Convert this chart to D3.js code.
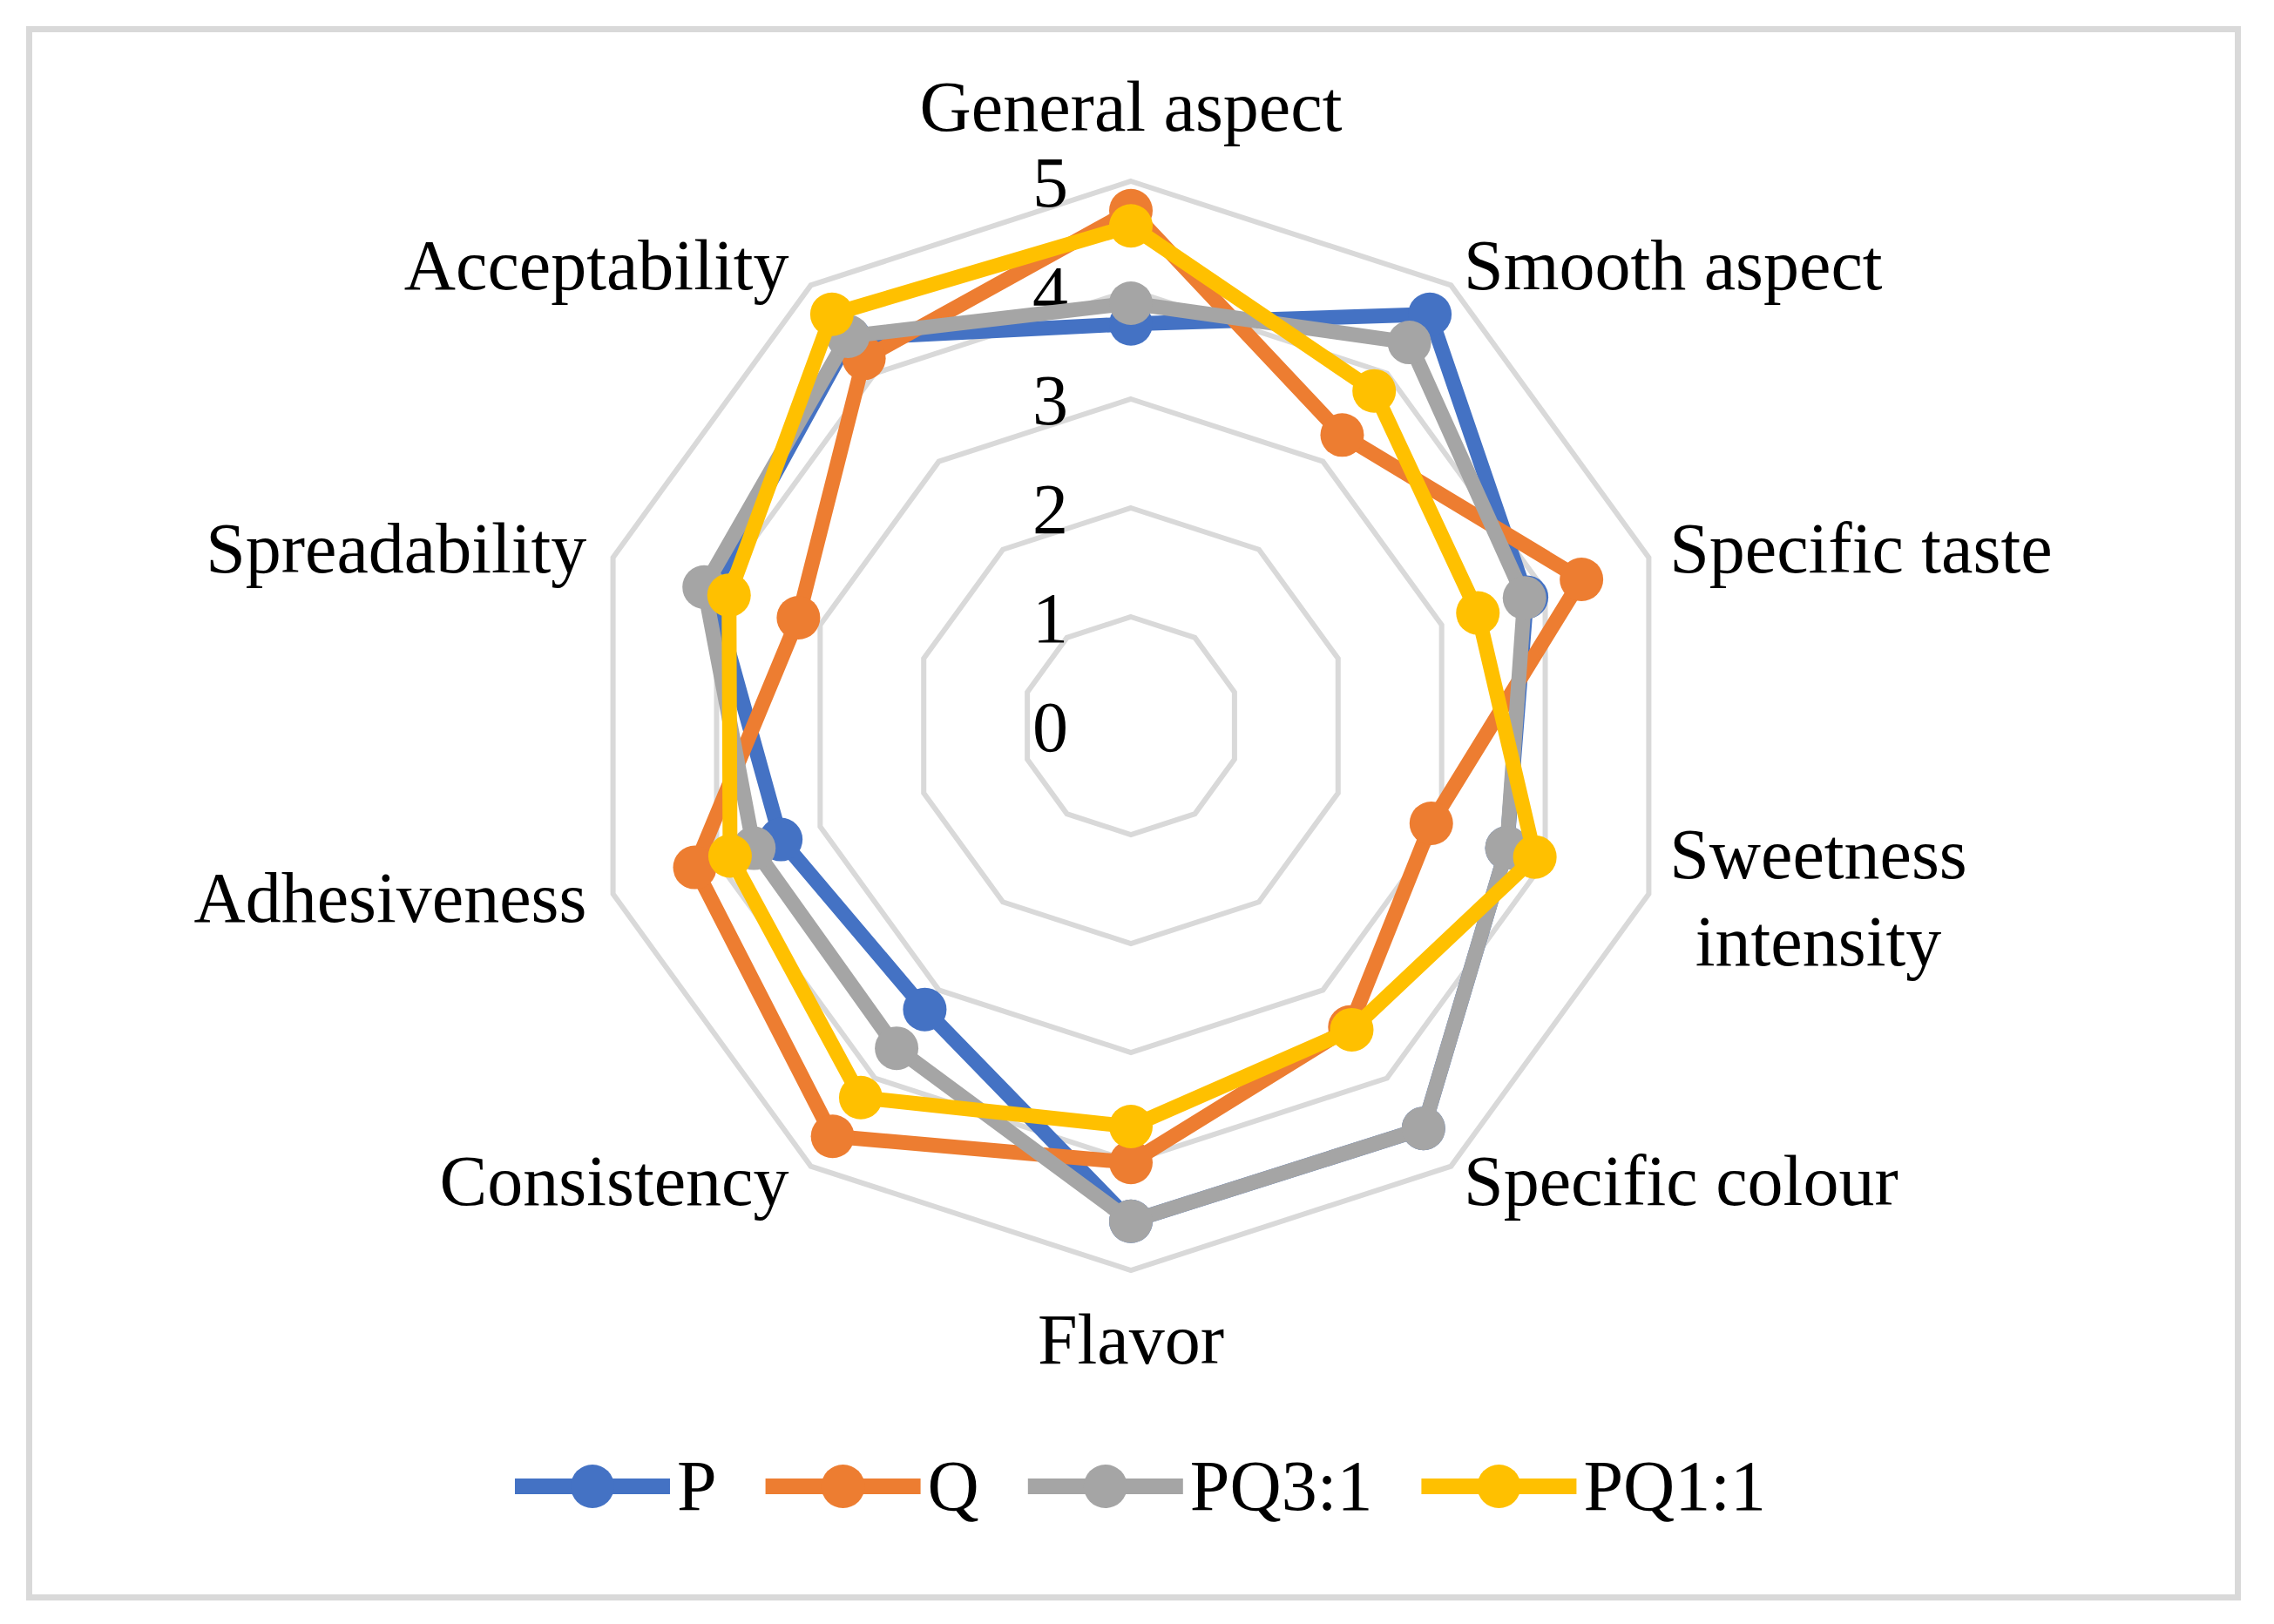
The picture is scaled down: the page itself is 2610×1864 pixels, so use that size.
<!DOCTYPE html>
<html>
<head>
<meta charset="utf-8">
<script src="https://cdn.jsdelivr.net/npm/d3@7"></script>
<style>
  html, body { margin: 0; padding: 0; background: #ffffff; }
  svg { display: block; }
  text { font-family: "Liberation Serif", "Times New Roman", serif; fill: #000; }
</style>
</head>
<body>
<svg id="chart" width="2610" height="1864"></svg>
<script>
// ---------- data ----------
const categories = ["General aspect", "Smooth aspect", "Specific taste", "Sweetness intensity",
  "Specific colour", "Flavor", "Consistency", "Adhesiveness", "Spreadability", "Acceptability"];
const seriesNames = ["P", "Q", "PQ3:1", "PQ1:1"];
const valuesP    = [3.69, 4.67, 3.82, 3.63, 4.57, 4.55, 3.22, 3.38, 4.05, 4.40];
const valuesQ    = [4.73, 3.30, 4.35, 2.90, 3.42, 4.01, 4.66, 4.21, 3.21, 4.17];
const valuesPQ31 = [3.88, 4.35, 3.80, 3.63, 4.57, 4.55, 3.66, 3.64, 4.12, 4.42];
const valuesPQ11 = [4.59, 3.80, 3.35, 3.90, 3.45, 3.68, 4.22, 3.87, 3.88, 4.67];
const tickValues = [0, 1, 2, 3, 4, 5];
const tickLabels = ["0", "1", "2", "3", "4", "5"];
const seriesColors = ["#4472C4", "#ED7D31", "#A5A5A5", "#FFC000"];

// ---------- layout ----------
const W = 2610, H = 1864;
const cx = 1298, cy = 833, R = 625;
const fontSize = 82;
const lineW = 17, markerR = 25;
const gridColor = "#D9D9D9";
const maxLabelW = 520;

const svg = d3.select("#chart");
svg.append("rect").attr("x", 0).attr("y", 0).attr("width", W).attr("height", H).attr("fill", "#fff");
svg.append("rect").attr("x", 33.5).attr("y", 33.5).attr("width", 2535).attr("height", 1800)
  .attr("fill", "none").attr("stroke", gridColor).attr("stroke-width", 7);

const n = categories.length;
const rScale = d3.scaleLinear().domain([0, 5]).range([0, R]);
const aScale = d3.scaleLinear().domain([0, n]).range([0, 2 * Math.PI]);

const g = svg.append("g").attr("transform", `translate(${cx},${cy})`);

// rings
const ringLine = d3.lineRadial()
  .angle((d, i) => aScale(i))
  .radius(d => rScale(d))
  .curve(d3.curveLinearClosed);
tickValues.filter(v => v > 0).forEach(v => {
  g.append("path")
    .attr("d", ringLine(d3.range(n).map(() => v)))
    .attr("fill", "none").attr("stroke", gridColor).attr("stroke-width", 6)
    .attr("stroke-linejoin", "miter");
});

// tick labels
g.selectAll("text.tick").data(tickValues).join("text")
  .attr("class", "tick")
  .attr("x", -72)
  .attr("y", d => -rScale(d))
  .attr("dy", "0.35em")
  .attr("text-anchor", "end")
  .attr("font-size", fontSize)
  .text((d, i) => tickLabels[i]);

// series
const allValues = [valuesP, valuesQ, valuesPQ31, valuesPQ11];
const seriesLine = d3.lineRadial()
  .angle((d, i) => aScale(i))
  .radius(d => rScale(d))
  .curve(d3.curveLinearClosed);
allValues.forEach((vals, s) => {
  const sg = g.append("g");
  sg.append("path")
    .attr("d", seriesLine(vals))
    .attr("fill", "none")
    .attr("stroke", seriesColors[s])
    .attr("stroke-width", lineW)
    .attr("stroke-linejoin", "round");
  sg.selectAll("circle").data(vals).join("circle")
    .attr("cx", (d, i) => rScale(d) * Math.sin(aScale(i)))
    .attr("cy", (d, i) => -rScale(d) * Math.cos(aScale(i)))
    .attr("r", markerR)
    .attr("fill", seriesColors[s]);
});

// category labels
const measure = svg.append("text").attr("font-size", fontSize).attr("visibility", "hidden");
function textW(s) { measure.text(s); return measure.node().getComputedTextLength(); }

categories.forEach((name, i) => {
  const a = aScale(i);
  const s = Math.sin(a), c = Math.cos(a);
  if (Math.abs(s) < 0.01) {
    g.append("text").attr("font-size", fontSize).attr("text-anchor", "middle")
      .attr("x", 0)
      .attr("y", c > 0 ? -(R + 58) : (R + 107))
      .text(name);
    return;
  }
  const pad = s > 0 ? 25 : 25 + 22 * Math.abs(c);
  const px = (R + pad) * s, py = -(R + 25) * c;
  const absX = cx + px;
  const avail = Math.min(maxLabelW, s > 0 ? (W - 60 - absX) : (absX - 60));
  let lines = [name];
  if (textW(name) > avail) {
    const words = name.split(" ");
    lines = [];
    let cur = "";
    words.forEach(w => {
      const trial = cur ? cur + " " + w : w;
      if (cur && textW(trial) > avail) { lines.push(cur); cur = w; } else { cur = trial; }
    });
    if (cur) lines.push(cur);
  }
  const lh = 100;
  if (lines.length === 1) {
    g.append("text").attr("font-size", fontSize)
      .attr("text-anchor", s > 0 ? "start" : "end")
      .attr("x", px).attr("y", py).attr("dy", "0.3em")
      .text(name);
  } else {
    const maxW = d3.max(lines, l => textW(l));
    const midX = s > 0 ? px + maxW / 2 : px - maxW / 2;
    lines.forEach((l, k) => {
      g.append("text").attr("font-size", fontSize).attr("text-anchor", "middle")
        .attr("x", midX)
        .attr("y", py - (lines.length - 1) * lh / 2 + k * lh)
        .attr("dy", "0.3em")
        .text(l);
    });
  }
});

// legend
const legY = 1706, legLine = 178, legTextGap = 8, legItemGap = 56;
const widths = seriesNames.map(sn => legLine + legTextGap + textW(sn));
const total = d3.sum(widths) + legItemGap * (seriesNames.length - 1);
let lx = 1309 - total / 2;
const leg = svg.append("g");
seriesNames.forEach((sn, s) => {
  const it = leg.append("g").attr("transform", `translate(${lx},${legY})`);
  it.append("line").attr("x1", 0).attr("x2", legLine).attr("y1", 0).attr("y2", 0)
    .attr("stroke", seriesColors[s]).attr("stroke-width", 18);
  it.append("circle").attr("cx", legLine / 2).attr("cy", 0).attr("r", markerR).attr("fill", seriesColors[s]);
  it.append("text").attr("x", legLine + legTextGap).attr("y", 0).attr("dy", "0.33em")
    .attr("font-size", fontSize).text(sn);
  lx += widths[s] + legItemGap;
});
measure.remove();
</script>
</body>
</html>
